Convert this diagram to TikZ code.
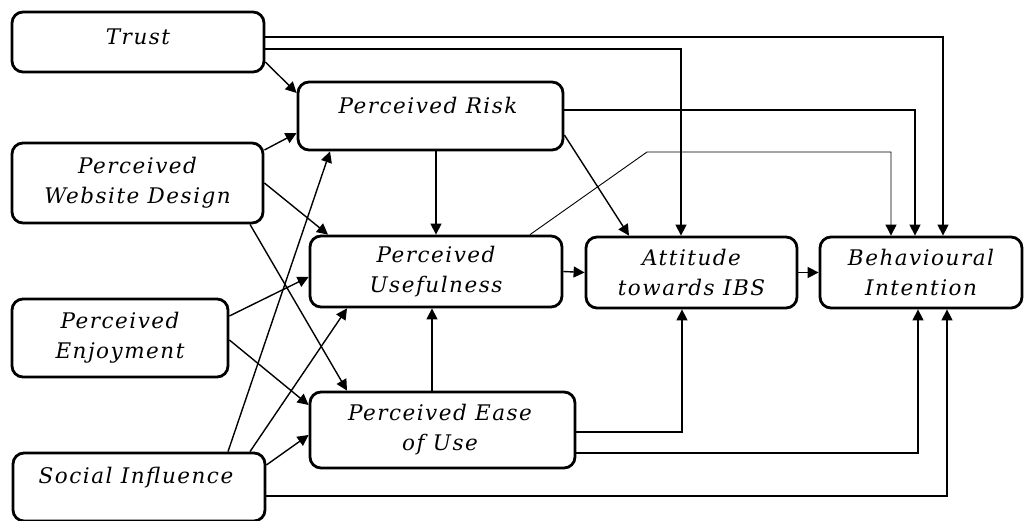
\documentclass[tikz,border=0pt]{standalone}
\usepackage{fontspec}
\setmainfont{DejaVu Serif}[LetterSpace=7]
\usetikzlibrary{arrows.meta}

\tikzset{
  box/.style={draw, line width=2.8pt, rounded corners=11pt, inner sep=0pt},
  lbl/.style={font=\fontsize{21.5}{30}\selectfont\itshape, align=center, inner sep=0pt},
  link/.style={line width=1.4pt, -{Triangle[length=11pt,width=11pt]}},
  thinlink/.style={line width=0.9pt, -{Triangle[length=11pt,width=11pt]}}
}

\begin{document}
\begin{tikzpicture}[x=1pt,y=-1pt]
  \useasboundingbox (0,0) rectangle (1026,521);

  % construct boxes
  \node[box, minimum width=252pt, minimum height=60pt] (trust) at (138,42) {};
  \node[box, minimum width=251pt, minimum height=80pt] (pwd)   at (137.5,183) {};
  \node[box, minimum width=216pt, minimum height=78pt] (pe)    at (120,338) {};
  \node[box, minimum width=252pt, minimum height=68pt] (si)    at (139,487) {};
  \node[box, minimum width=265pt, minimum height=68pt] (pr)    at (430.5,116) {};
  \node[box, minimum width=252pt, minimum height=71pt] (pu)    at (436,271.5) {};
  \node[box, minimum width=265pt, minimum height=76pt] (peou)  at (442.5,430) {};
  \node[box, minimum width=211pt, minimum height=71pt] (att)   at (691.5,272.5) {};
  \node[box, minimum width=202pt, minimum height=71pt] (bi)    at (921,272.5) {};

  % construct names
  \node[lbl] (trust-t) at (138,37)   {Trust};
  \node[lbl] (pwd-t)   at (137.5,183) {Perceived\\Website Design};
  \node[lbl] (pe-t)    at (120,338)  {Perceived\\Enjoyment};
  \node[lbl] (si-t)    at (136,478)  {Social Influence};
  \node[lbl] (pr-t)    at (428,105)  {Perceived Risk};
  \node[lbl] (pu-t)    at (436,271.5) {Perceived\\Usefulness};
  \node[lbl] (peou-t)  at (440,430) {Perceived Ease\\of Use};
  \node[lbl] (att-t)   at (691.5,272.5) {Attitude\\towards IBS};
  \node[lbl] (bi-t)    at (921,272.5) {Behavioural\\Intention};

  % paths from Trust
  \draw[link] (trust.east |- 0,37) -| (bi.north -| 943,0);
  \draw[link] (trust.east |- 0,49) -| (att.north -| 681,0);
  \draw[link] (trust.east |- 0,62) -- (pr.west |- 0,93);

  % paths from Perceived Website Design
  \draw[link] (pwd.east |- 0,150) -- (pr.west |- 0,133);
  \draw[link] (pwd.east |- 0,183) -- (pu.north -| 328,0);
  \draw[link] (pwd.south -| 250,0) -- (peou.north -| 347,0);

  % paths from Perceived Enjoyment
  \draw[link] (pe.east |- 0,316) -- (pu.west |- 0,277);
  \draw[link] (pe.east |- 0,340) -- (peou.west |- 0,405);

  % paths from Social Influence
  \draw[link] (si.north -| 228,0) -- (pr.south -| 330,0);
  \draw[link] (si.north -| 250,0) -- (pu.south -| 347,0);
  \draw[link] (si.east |- 0,465) -- (peou.west |- 0,435);
  \draw[link] (si.east |- 0,496) -| (bi.south -| 947,0);

  % paths from Perceived Risk
  \draw[link] (pr.south -| 436,0) -- (pu.north -| 436,0);
  \draw[link] (pr.east |- 0,135) -- (att.north -| 629,0);
  \draw[link] (pr.east |- 0,110) -| (bi.north -| 915,0);

  % paths from Perceived Usefulness
  \coordinate (bend) at (647,152);
  \draw[thinlink] (pu.north -| 530,0) -- (bend) -| (bi.north -| 891,0);
  \draw[link] (pu.east) -- (att.west);

  % path from Attitude
  \draw[link] (att.east) -- (bi.west);

  % paths from Perceived Ease of Use
  \draw[link] (peou.north -| 432,0) -- (pu.south -| 432,0);
  \draw[link] (peou.east |- 0,432) -| (att.south -| 682,0);
  \draw[link] (peou.east |- 0,453) -| (bi.south -| 918,0);
\end{tikzpicture}
\end{document}
